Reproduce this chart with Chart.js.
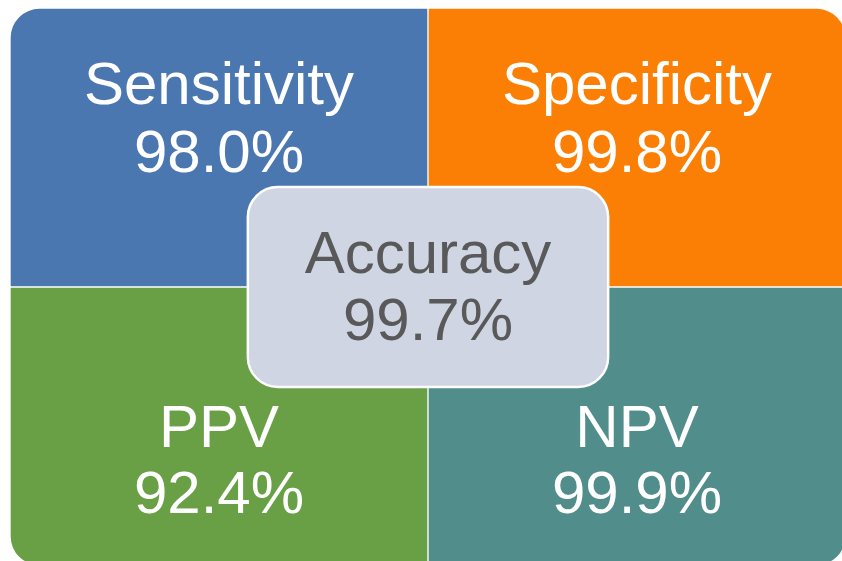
<!DOCTYPE html>
<html>
<head>
<meta charset="utf-8">
<script src="https://cdn.jsdelivr.net/npm/chart.js@4.4.1/dist/chart.umd.min.js"></script>
<style>
  html, body { margin: 0; padding: 0; background: #ffffff; overflow: hidden; }
  #clip { width: 842px; height: 561px; overflow: hidden; position: relative; }
  #wrap { width: 846px; height: 566px; }
</style>
</head>
<body>
<div id="clip"><div id="wrap"><canvas id="matrixChart"></canvas></div></div>
<script>
// dados do quadro
const columns = ['left', 'right'];
const topMetrics = ['Sensitivity', 'Specificity'];
const topValues = [98.0, 99.8];
const bottomMetrics = ['PPV', 'NPV'];
const bottomValues = [92.4, 99.9];
const centerMetric = 'Accuracy';
const centerValue = 99.7;

const topColors = ['#4b77b0', '#fb7f05'];
const bottomColors = ['#69a045', '#508d8b'];

const FONT = "'Liberation Sans', Arial, sans-serif";
const R = 30;

// desenha os textos e a caixa central
const labelsPlugin = {
    id: 'matrixLabels',
    afterDatasetsDraw(chart) {
        const ctx = chart.ctx;
        ctx.save();
        ctx.textAlign = 'center';
        ctx.textBaseline = 'alphabetic';
        ctx.font = '60px ' + FONT;
        ctx.fillStyle = '#ffffff';

        // células de baixo (dataset 0) e de cima (dataset 1)
        chart.getDatasetMeta(0).data.forEach((bar, i) => {
            const bottom = bar.base;
            ctx.fillText(bottomMetrics[i], bar.x, bottom - 119);
            ctx.fillText(bottomValues[i].toFixed(1) + '%', bar.x, bottom - 53);
        });
        chart.getDatasetMeta(1).data.forEach((bar, i) => {
            const top = bar.y;
            ctx.fillText(topMetrics[i], bar.x, top + 96);
            ctx.fillText(topValues[i].toFixed(1) + '%', bar.x, top + 164);
        });

        // caixa central
        const xs = chart.scales.x, ys = chart.scales.y;
        const x0 = xs.getPixelForValue(0.5 - 0.431);
        const x1 = xs.getPixelForValue(0.5 + 0.431);
        const y0 = ys.getPixelForValue(1 + 0.358);
        const y1 = ys.getPixelForValue(1 - 0.358);
        ctx.beginPath();
        ctx.roundRect(x0, y0, x1 - x0, y1 - y0, 30);
        ctx.fillStyle = '#d0d5e3';
        ctx.fill();
        ctx.lineWidth = 2.5;
        ctx.strokeStyle = '#ffffff';
        ctx.stroke();

        const cx = (x0 + x1) / 2, cy = (y0 + y1) / 2;
        ctx.fillStyle = '#595959';
        ctx.fillText(centerMetric, cx, cy - 14);
        ctx.fillText(centerValue.toFixed(1) + '%', cx, cy + 53);
        ctx.restore();
    }
};

new Chart(document.getElementById('matrixChart'), {
    type: 'bar',
    data: {
        labels: columns,
        datasets: [
            {
                label: 'bottom',
                data: bottomValues.map(() => 1),
                backgroundColor: bottomColors,
                borderColor: '#ffffff',
                borderWidth: 1,
                borderSkipped: false,
                borderRadius: ctx => ctx.dataIndex === 0
                    ? { topLeft: 0, topRight: 0, bottomLeft: R, bottomRight: 0 }
                    : { topLeft: 0, topRight: 0, bottomLeft: 0, bottomRight: R }
            },
            {
                label: 'top',
                data: topValues.map(() => 1),
                backgroundColor: topColors,
                borderColor: '#ffffff',
                borderWidth: 1,
                borderSkipped: false,
                borderRadius: ctx => ctx.dataIndex === 0
                    ? { topLeft: R, topRight: 0, bottomLeft: 0, bottomRight: 0 }
                    : { topLeft: 0, topRight: R, bottomLeft: 0, bottomRight: 0 }
            }
        ]
    },
    options: {
        responsive: true,
        maintainAspectRatio: false,
        animation: false,
        layout: { padding: { left: 10, top: 8, right: 0, bottom: 0 } },
        datasets: { bar: { barPercentage: 1, categoryPercentage: 1 } },
        plugins: {
            legend: { display: false },
            tooltip: { enabled: false }
        },
        scales: {
            x: { stacked: true, display: false },
            y: { stacked: true, display: false, min: 0, max: 2 }
        }
    },
    plugins: [labelsPlugin]
});
</script>
</body>
</html>
